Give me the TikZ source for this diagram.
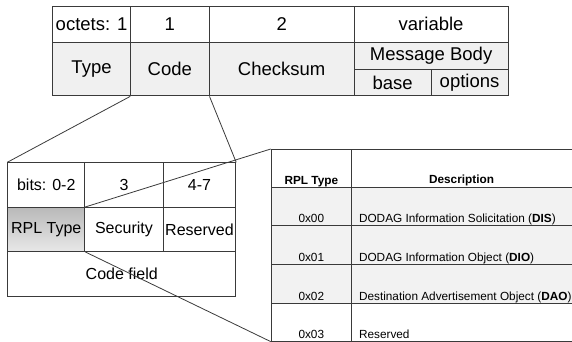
\documentclass[tikz,border=0pt]{standalone}
\usepackage{fontspec}
\setmainfont{Liberation Sans}
\definecolor{linegray}{RGB}{58,58,58}
\definecolor{rowgray}{RGB}{240,240,240}
\definecolor{listgray}{RGB}{242,242,242}
\tikzset{
  cell/.style={draw=linegray, line width=0.9pt, inner sep=0pt, anchor=north west},
  topfont/.style={font=\fontsize{18.5}{20}\selectfont},
  bitfont/.style={font=\fontsize{16}{18}\selectfont},
  rplfont/.style={font=\fontsize{11.8}{13}\selectfont},
  zoomline/.style={draw=linegray, line width=0.8pt},
}
\begin{document}
\begin{tikzpicture}[x=1pt, y=-1pt]
  \useasboundingbox (0,0) rectangle (572,342);
  %%%%%%%%%%%%%%%%%%%%%%%%%%%%%%%% message header
  \node[cell, topfont, minimum width=78.2pt, minimum height=36pt] (oct) at (52,5.7) {octets: 1};
  \node[cell, topfont, minimum width=78.4pt, minimum height=36pt] (octcode) at (130.2,5.7) {1};
  \node[cell, topfont, minimum width=145.2pt, minimum height=36pt] (octsum) at (208.6,5.7) {2};
  \node[cell, topfont, minimum width=153.7pt, minimum height=36pt] (octbody) at (353.8,5.7) {variable};
  \node[cell, topfont, fill=rowgray, minimum width=78.2pt, minimum height=53.8pt] (type) at (52,41.7) {Type};
  \node[cell, topfont, fill=rowgray, minimum width=78.4pt, minimum height=53.8pt] (code) at (130.2,41.7) {Code};
  \node[cell, topfont, fill=rowgray, minimum width=145.2pt, minimum height=53.8pt] (checksum) at (208.6,41.7) {Checksum};
  \node[cell, topfont, fill=rowgray, minimum width=153.7pt, minimum height=27.3pt] (body) at (353.8,41.7) {Message Body};
  \node[cell, topfont, fill=rowgray, minimum width=76.9pt, minimum height=26.5pt] (base) at (353.8,69) {base};
  \node[cell, topfont, fill=rowgray, minimum width=76.8pt, minimum height=26.5pt] (options) at (430.7,69) {options};
  %%%%%%%%%%%%%%%%%%%%%%%%%%%%%%%% code field
  \node[cell, bitfont, minimum width=77pt, minimum height=44.7pt] (bitsa) at (7.3,162.3) {bits: 0-2};
  \node[cell, bitfont, minimum width=78.4pt, minimum height=44.7pt] (bitsb) at (84.3,162.3) {3};
  \node[cell, bitfont, minimum width=72.6pt, minimum height=44.7pt] (bitsc) at (162.7,162.3) {4-7};
  \node[cell, bitfont, top color=gray!55, bottom color=gray!18, minimum width=77pt, minimum height=44pt] (rpl) at (7.3,207) {RPL Type};
  \node[cell, bitfont, minimum width=78.4pt, minimum height=44pt] (security) at (84.3,207) {Security};
  \node[cell, bitfont, minimum width=72.6pt, minimum height=44pt] (reserved) at (162.7,207) {Reserved};
  \node[cell, bitfont, minimum width=228pt, minimum height=45pt] (codefield) at (7.3,251) {Code field};
  %%%%%%%%%%%%%%%%%%%%%%%%%%%%%%%% RPL types
  \node[cell, minimum width=80.3pt, minimum height=38.3pt] (hdtype) at (270.7,149) {};
  \node[cell, minimum width=230pt, minimum height=38.3pt] (hddesc) at (351,149) {};
  \node[cell, fill=listgray, minimum width=80.3pt, minimum height=37.7pt] (rowat) at (270.7,187.3) {};
  \node[cell, fill=listgray, minimum width=230pt, minimum height=37.7pt] (rowad) at (351,187.3) {};
  \node[cell, fill=listgray, minimum width=80.3pt, minimum height=39.3pt] (rowbt) at (270.7,225) {};
  \node[cell, fill=listgray, minimum width=230pt, minimum height=39.3pt] (rowbd) at (351,225) {};
  \node[cell, fill=listgray, minimum width=80.3pt, minimum height=38.4pt] (rowct) at (270.7,264.3) {};
  \node[cell, fill=listgray, minimum width=230pt, minimum height=38.4pt] (rowcd) at (351,264.3) {};
  \node[cell, minimum width=80.3pt, minimum height=38pt] (rowdt) at (270.7,302.7) {};
  \node[cell, minimum width=230pt, minimum height=38pt] (rowdd) at (351,302.7) {};
  %%%%%%%%%%%%%%%%%%%%%%%%%%%%%
  \node[rplfont, anchor=base] (hdtypetxt) at ([yshift=3.3pt]hdtype.south) {\textbf{RPL Type}};
  \node[rplfont, anchor=base] (hddesctxt) at (461.5,183.9) {\textbf{Description}};
  \node[rplfont, anchor=base] (rowattxt) at ([yshift=3.3pt]rowat.south) {0x00};
  \node[rplfont, anchor=base west] (rowadtxt) at ([xshift=4.5pt,yshift=3.3pt]rowad.south west) {DODAG Information Solicitation (\textbf{DIS})};
  \node[rplfont, anchor=base] (rowbttxt) at ([yshift=3.3pt]rowbt.south) {0x01};
  \node[rplfont, anchor=base west] (rowbdtxt) at ([xshift=4.5pt,yshift=3.3pt]rowbd.south west) {DODAG Information Object (\textbf{DIO})};
  \node[rplfont, anchor=base] (rowcttxt) at ([yshift=3.3pt]rowct.south) {0x02};
  \node[rplfont, anchor=base west] (rowcdtxt) at ([xshift=4.5pt,yshift=3.3pt]rowcd.south west) {Destination Advertisement Object (\textbf{DAO})};
  \node[rplfont, anchor=base] (rowdttxt) at ([yshift=3.3pt]rowdt.south) {0x03};
  \node[rplfont, anchor=base west] (rowddtxt) at ([xshift=4.5pt,yshift=3.3pt]rowdd.south west) {Reserved};
  %%%%%%%%%%%%%%%%%%%%%%%%%%%%%
  \draw[zoomline] (code.south west) -- (bitsa.north west);
  \draw[zoomline] (code.south east) -- (bitsc.north east);
  \draw[zoomline] (rpl.north east) -- (hdtype.north west);
  \draw[zoomline] (rpl.south east) -- (rowdt.south west);
\end{tikzpicture}
\end{document}
